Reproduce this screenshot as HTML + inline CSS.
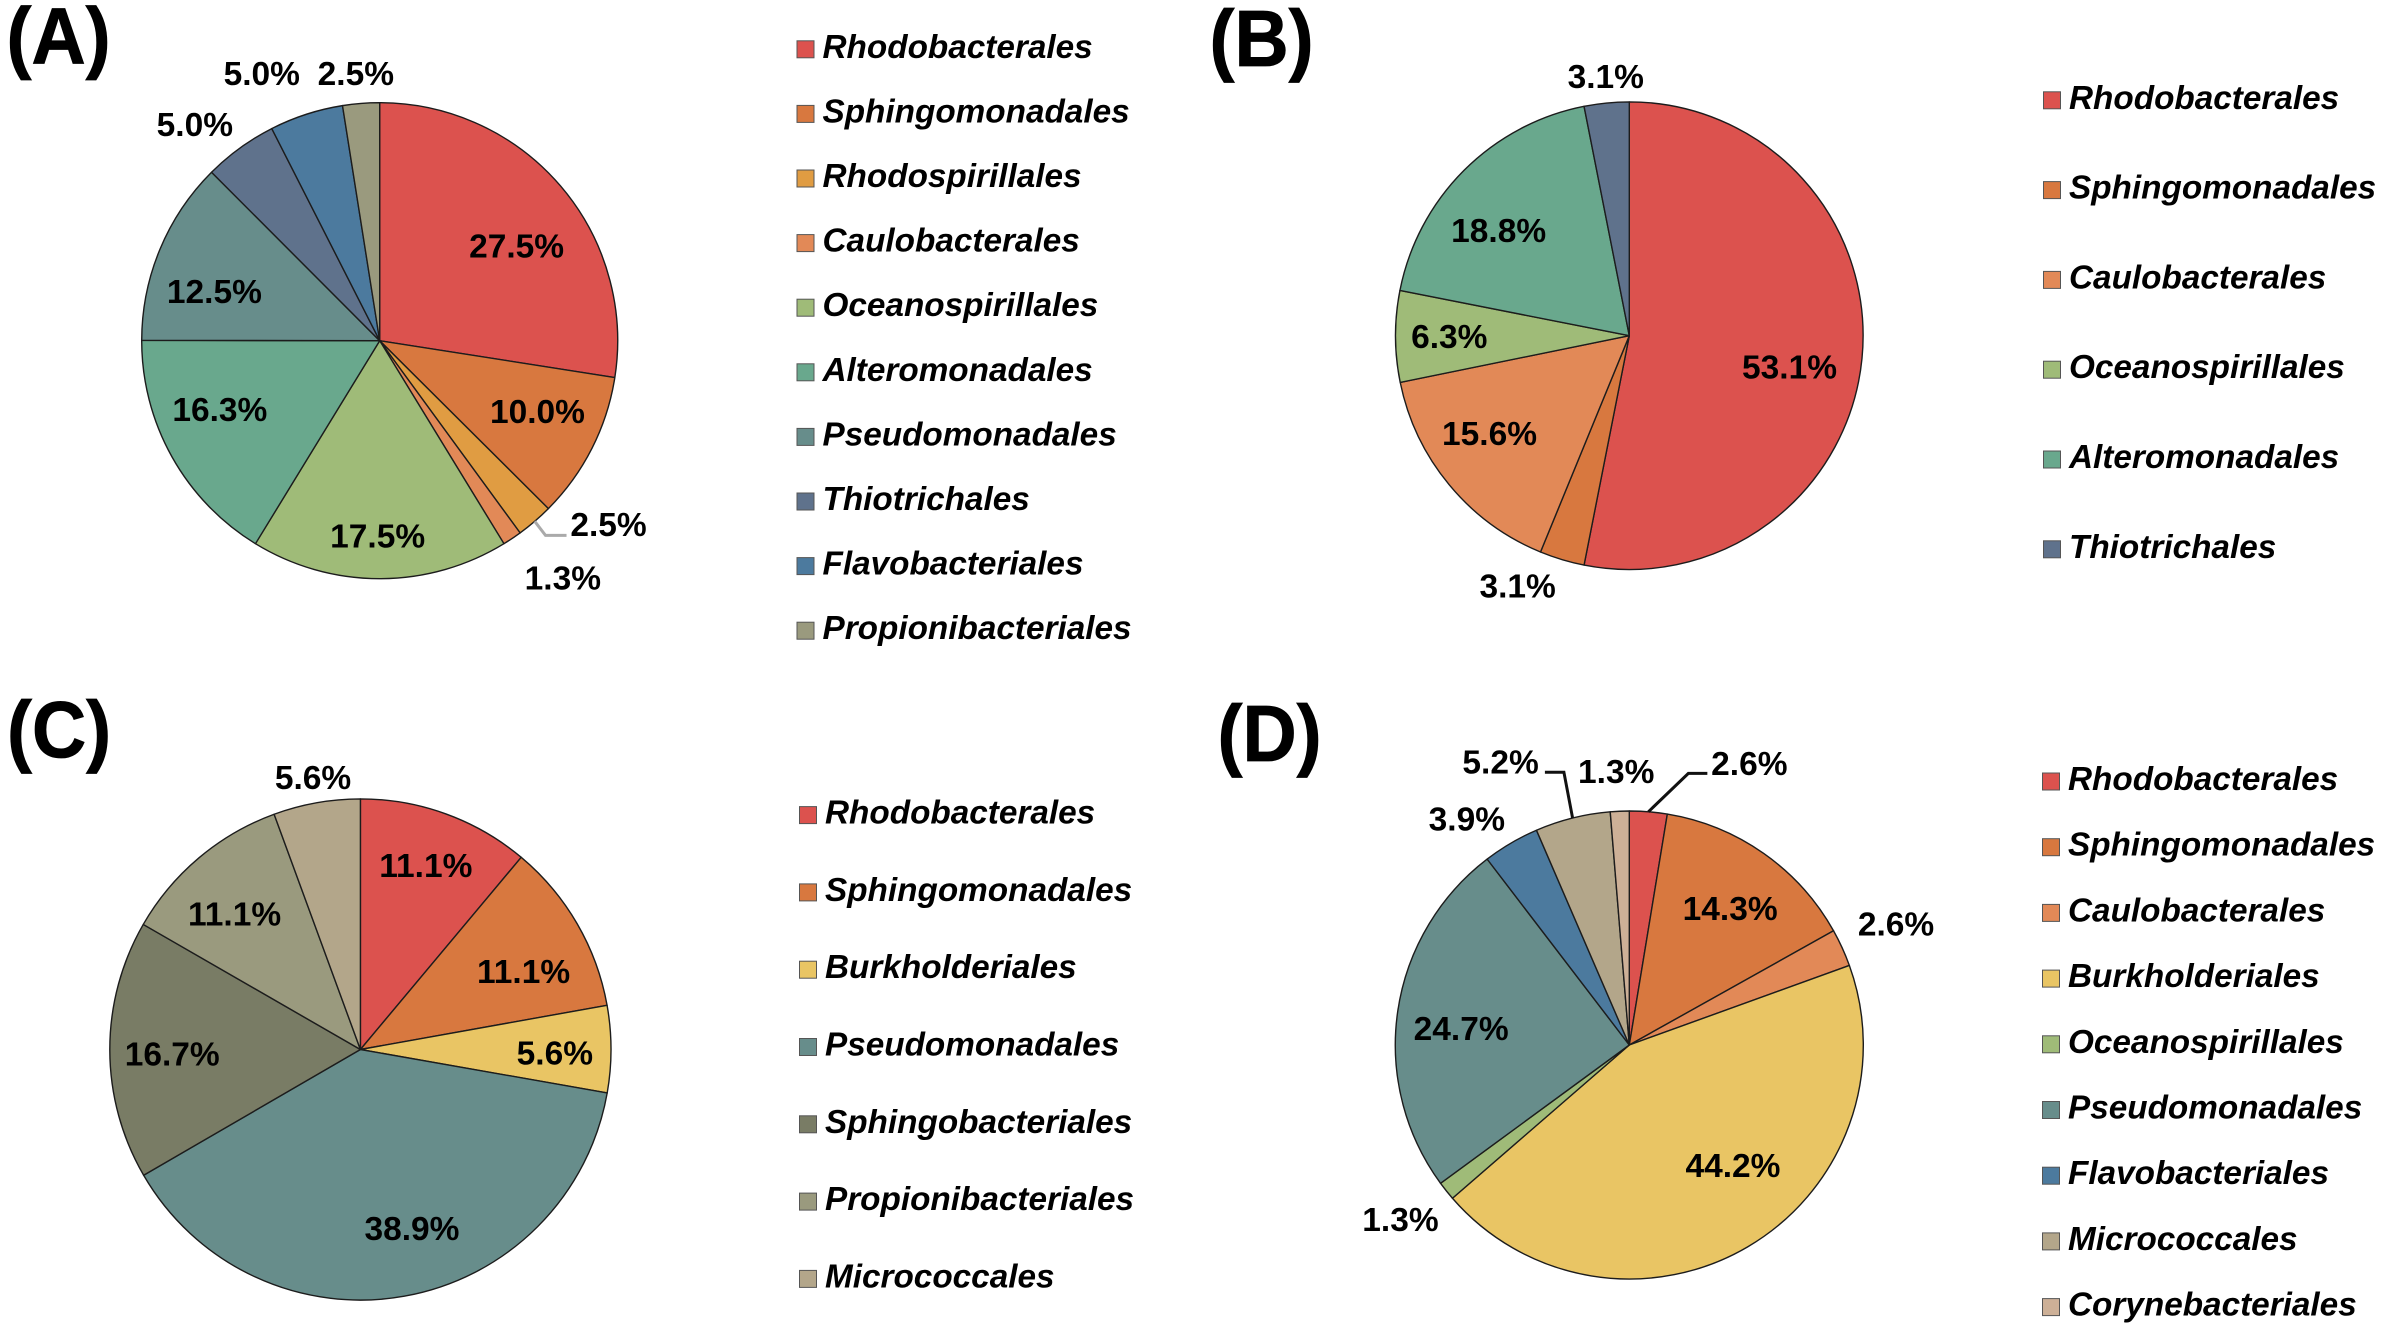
<!DOCTYPE html>
<html>
<head>
<meta charset="utf-8">
<style>
html,body{margin:0;padding:0;background:#fff;}
svg{display:block;}
text{font-family:"Liberation Sans",Arial,sans-serif;fill:#000;}
.pct{font-size:33.5px;font-weight:bold;text-anchor:middle;}
.leg{font-size:33.3px;font-weight:bold;font-style:italic;}
.tag{font-size:75px;font-weight:bold;stroke:#000;stroke-width:.8px;}
</style>
</head>
<body>
<svg id="figure" xmlns="http://www.w3.org/2000/svg" width="2382" height="1326" viewBox="0 0 2382 1326"></svg>
<script>
// ---- data ----
var categoriesA = ['Rhodobacterales','Sphingomonadales','Rhodospirillales','Caulobacterales','Oceanospirillales','Alteromonadales','Pseudomonadales','Thiotrichales','Flavobacteriales','Propionibacteriales'];
var valuesA = [27.5,10.0,2.5,1.3,17.5,16.3,12.5,5.0,5.0,2.5];

var categoriesB = ['Rhodobacterales','Sphingomonadales','Caulobacterales','Oceanospirillales','Alteromonadales','Thiotrichales'];
var valuesB = [53.1,3.1,15.6,6.3,18.8,3.1];

var categoriesC = ['Rhodobacterales','Sphingomonadales','Burkholderiales','Pseudomonadales','Sphingobacteriales','Propionibacteriales','Micrococcales'];
var valuesC = [11.1,11.1,5.6,38.9,16.7,11.1,5.6];

var categoriesD = ['Rhodobacterales','Sphingomonadales','Caulobacterales','Burkholderiales','Oceanospirillales','Pseudomonadales','Flavobacteriales','Micrococcales','Corynebacteriales'];
var valuesD = [2.6,14.3,2.6,44.2,1.3,24.7,3.9,5.2,1.3];

// ---- styling & layout (not data) ----
var colours = {
  Rhodobacterales:'#DC524E', Sphingomonadales:'#D8783F', Rhodospirillales:'#E09C42',
  Caulobacterales:'#E28957', Burkholderiales:'#E9C564', Oceanospirillales:'#9FBB78',
  Alteromonadales:'#69A88D', Pseudomonadales:'#678D8B', Thiotrichales:'#5F728C',
  Flavobacteriales:'#4C7A9E', Propionibacteriales:'#9A9A7E', Sphingobacteriales:'#797C65',
  Micrococcales:'#B3A68A', Corynebacteriales:'#CDB097'
};
// label placement per slice: radius factor and angular nudge from the slice mid-angle
var placeA = [[.70,5.8],[.726,-2.8],[1.233,-10.6],[1.258,-3.9],[.82,.6],[.731,6],[.725,-5.9],[1.197,-4.5],[1.229,-5.8],[1.129,-.6]];
var placeB = [[.698,5.4],[1.172,7.3],[.729,4.7],[.77,0],[.718,-6.1],[1.115,.4]];
var placeC = [[.78,-.4],[.722,4.5],[.776,1],[.743,-6],[.751,-1.2],[.739,-2.7],[1.103,.2]];
var placeD = [[1.309,18.4],[.727,1.3],[1.252,.1],[.678,-10.4],[1.229,1.3],[.722,-2.5],[1.19,-5.3],[1.33,-10.4],[1.172,-.4]];

var panels = [
  {id:'a',tag:'(A)',tagX:6.5,tagY:63.5,cx:379.7,cy:340.7,r:238,legX:797,legY:49.3,legStep:64.6,cats:categoriesA,vals:valuesA,place:placeA,
   leaders:[{i:2,colour:'#aaaaaa',elbow:[-63,11],end:[-42,11]}]},
  {id:'b',tag:'(B)',tagX:1209.5,tagY:66,cx:1629.3,cy:335.7,r:233.8,legX:2043.5,legY:100.3,legStep:89.8,cats:categoriesB,vals:valuesB,place:placeB,leaders:[]},
  {id:'c',tag:'(C)',tagX:7,tagY:757,cx:360.4,cy:1049.5,r:250.6,legX:799.5,legY:815.1,legStep:77.3,cats:categoriesC,vals:valuesC,place:placeC,leaders:[]},
  {id:'d',tag:'(D)',tagX:1217.5,tagY:761,cx:1629.3,cy:1045,r:234,legX:2042.5,legY:781.5,legStep:65.7,cats:categoriesD,vals:valuesD,place:placeD,
   leaders:[{i:0,colour:'#111111',elbow:[-61,10.2],end:[-42,10.2]},{i:7,colour:'#111111',elbow:[63.3,10.6],end:[44.3,10.6]}]}
];

var NS = 'http://www.w3.org/2000/svg';
var svg = document.getElementById('figure');

function make(tag, parent, attrs){
  var el = document.createElementNS(NS, tag);
  for (var k in attrs) el.setAttribute(k, attrs[k]);
  parent.appendChild(el);
  return el;
}
// angle axis: value -> clockwise degrees from 12 o'clock
function angleScale(vals){
  var total = vals.reduce(function(a,b){return a+b;},0);
  return function(v){ return v/total*360; };
}
function polar(p, deg, rad){
  var t = deg*Math.PI/180;
  return [p.cx+rad*Math.sin(t), p.cy-rad*Math.cos(t)];
}
function drawPanel(p){
  var group = make('g', svg, {});
  
  

  var tagEl = make('text', group, {'class':'tag', transform:'translate('+p.tagX+' '+p.tagY+') scale(1 1.06)'});
  tagEl.textContent = p.tag;
  
  

  var scale = angleScale(p.vals), cum = 0, mids = [];
  p.vals.forEach(function(v,i){
    var a0 = cum, a1 = cum + scale(v);
    cum = a1;
    mids.push((a0+a1)/2);
    var s = polar(p,a0,p.r), e = polar(p,a1,p.r);
    var large = (a1-a0) > 180 ? 1 : 0;
    var slice = make('path', group, {
      d:'M'+p.cx+' '+p.cy+'L'+s[0]+' '+s[1]+'A'+p.r+' '+p.r+' 0 '+large+' 1 '+e[0]+' '+e[1]+'Z',
      fill:colours[p.cats[i]], stroke:'#1c1c1c', 'stroke-width':1.4, 'stroke-linejoin':'round'
    });
    
    
  });

  var centres = [];
  p.vals.forEach(function(v,i){
    var pl = p.place[i];
    var c = polar(p, mids[i]+pl[1], p.r*pl[0]);
    centres.push(c);
    var t = make('text', group, {'class':'pct', x:c[0], y:c[1]+11.8});
    t.textContent = v.toFixed(1)+'%';
    
    
  });

  p.leaders.forEach(function(l){
    var a = polar(p, mids[l.i], p.r);
    var c = centres[l.i];
    var pts = [a[0]+','+a[1], (c[0]+l.elbow[0])+','+(c[1]+l.elbow[1]), (c[0]+l.end[0])+','+(c[1]+l.end[1])].join(' ');
    var line = make('polyline', group, {points:pts, fill:'none', stroke:l.colour, 'stroke-width':3});
    
    
  });

  p.cats.forEach(function(name,i){
    var y = p.legY + i*p.legStep;
    var entry = make('g', group, {});
    
    
    var sw = make('rect', entry, {x:p.legX, y:y-8.5, width:17, height:17, fill:colours[name], stroke:'#555', 'stroke-width':1});
    
    
    var t = make('text', entry, {'class':'leg', x:p.legX+25.5, y:y+8.5});
    t.textContent = name;
    
    
  });
}
panels.forEach(drawPanel);
</script>
</body>
</html>
